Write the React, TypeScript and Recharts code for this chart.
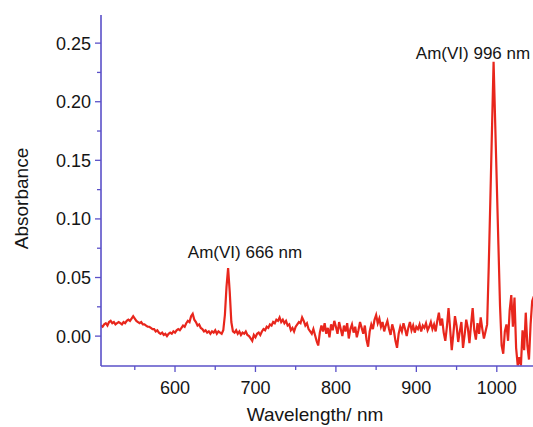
import { LineChart, Line, XAxis, YAxis, ReferenceDot } from 'recharts';

// absorbance readings, 2 nm apart, one array per stretch of the spectrum
const WL_STEP = 2;
const seg508 = [
  0.009, 0.008, 0.010, 0.011, 0.009, 0.012, 0.013, 0.011, 0.012, 0.010,
  0.011, 0.012, 0.011, 0.010, 0.012, 0.011, 0.013, 0.014, 0.013, 0.015,
  0.017, 0.015, 0.013, 0.012, 0.011, 0.012, 0.010,
];
const seg562 = [
  0.010, 0.009, 0.008, 0.008, 0.007, 0.006, 0.006, 0.004, 0.005, 0.003,
  0.002, 0.003, 0.001, 0.002, 0.000, 0.002, 0.003, 0.002, 0.004, 0.003,
];
const seg602 = [
  0.005, 0.006, 0.005, 0.007, 0.009, 0.008, 0.011, 0.013, 0.012, 0.017,
  0.019, 0.014, 0.012, 0.009, 0.010, 0.007, 0.006, 0.004, 0.005, 0.003,
];
const seg642 = [
  0.004, 0.002, 0.004, 0.003, 0.005, 0.002, 0.004, 0.003, 0.002, 0.005,
  0.018, 0.042, 0.058, 0.038, 0.012, 0.004, 0.003, 0.005, 0.002, 0.004,
  0.001, 0.003, 0.002, 0.004, 0.001,
];
const seg692 = [
  0.000, -0.002, -0.004, 0.001, -0.001, 0.002, 0.003, 0.001, 0.004, 0.006,
  0.005, 0.008, 0.007, 0.010, 0.009, 0.012, 0.011, 0.014, 0.013, 0.016,
  0.012, 0.014, 0.011, 0.013, 0.009, 0.010, 0.005, 0.007, 0.004, 0.008,
  0.010, 0.012, 0.011, 0.016, 0.013, 0.009, 0.011, 0.006, 0.004, 0.002,
];
const seg772 = [
  0.006, 0.001, -0.004, -0.008, 0.003, 0.009, 0.004, 0.011, 0.002, 0.007,
  -0.001, 0.010, 0.005, 0.013, 0.008, 0.002, 0.012, 0.006, 0.000, 0.009,
  0.004, 0.011, -0.002, 0.006, 0.010, 0.003, 0.008, -0.001, 0.005, 0.012,
  0.007, 0.002, 0.009, -0.003, -0.009, 0.004, 0.010, 0.006, 0.014, 0.018,
  0.011, 0.015, 0.008, 0.012, 0.004, 0.009, 0.013, 0.006, 0.001, 0.010,
  0.005, -0.004, -0.010, 0.002, 0.008, 0.004, 0.011, 0.006, 0.000, 0.007,
  0.012, 0.005, 0.009, 0.003, 0.008,
];
const seg902 = [
  0.006, 0.010, 0.004, 0.009, 0.007, 0.011, 0.005, 0.008, 0.012, 0.006,
  0.010, 0.004, 0.013, 0.020, 0.009, 0.015, 0.003, -0.004, 0.008, 0.024,
  0.006, -0.012, 0.002, 0.017, 0.009, -0.005, 0.004, 0.012, -0.010, 0.001,
  0.014, 0.007, -0.006, 0.010, 0.024, 0.005, -0.003, 0.011, 0.002, 0.016,
  0.006, -0.002, 0.004,
];
const seg988 = [0.010, 0.060, 0.117, 0.176, 0.234, 0.182, 0.130, 0.078, 0.026];
const seg1006 = [
  -0.008, -0.015, 0.004, 0.010, -0.004, 0.022, 0.035, 0.008, 0.033, -0.010,
  -0.025, -0.018, -0.025, 0.005, -0.012, 0.020, -0.008, -0.020, 0.010, 0.030,
  0.034,
];

const segments: [number, number[]][] = [
  [508, seg508], [562, seg562], [602, seg602], [642, seg642], [692, seg692],
  [772, seg772], [902, seg902], [988, seg988], [1006, seg1006],
];

const data = segments.flatMap(([start, vals]) =>
  vals.map((a, i) => ({ wl: start + i * WL_STEP, abs: a }))
);

const xTicks = [550, 600, 650, 700, 750, 800, 850, 900, 950, 1000];
const yTicks = [0, 0.025, 0.05, 0.075, 0.1, 0.125, 0.15, 0.175, 0.2, 0.225, 0.25];

const AXIS = '#5a50c8';
const FONT = '"Liberation Sans", Arial, sans-serif';
const INK = '#151515';

const isMajorX = (v: number) => v % 100 === 0;
const isMajorY = (v: number) => Math.abs(v * 20 - Math.round(v * 20)) < 1e-6;

const BottomTick = ({ x, y, payload }: any) => {
  const major = isMajorX(payload.value);
  return (
    <g>
      <line x1={x} x2={x} y1={y} y2={y + (major ? 6 : 4)} stroke={AXIS} strokeWidth={1.3} />
      {major && (
        <text x={x} y={y + 28} textAnchor="middle" fontSize={18} fontFamily={FONT} fill={INK}>
          {payload.value}
        </text>
      )}
    </g>
  );
};

const TopTick = ({ x, y, payload }: any) => {
  const major = isMajorX(payload.value);
  return <line x1={x} x2={x} y1={y} y2={y + (major ? 6 : 4)} stroke={AXIS} strokeWidth={1.3} />;
};

const LeftTick = ({ x, y, payload }: any) => {
  const major = isMajorY(payload.value);
  return (
    <g>
      <line x1={x - (major ? 6 : 4)} x2={x} y1={y} y2={y} stroke={AXIS} strokeWidth={1.3} />
      {major && (
        <text x={x - 10} y={y} dy="0.36em" textAnchor="end" fontSize={18} fontFamily={FONT} fill={INK}>
          {payload.value.toFixed(2)}
        </text>
      )}
    </g>
  );
};

const YTitle = ({ viewBox }: any) => {
  const cx = viewBox.x + 21;
  const cy = viewBox.y + viewBox.height / 2 + 8;
  return (
    <text
      x={cx}
      y={cy}
      dy="0.36em"
      textAnchor="middle"
      transform={`rotate(-90, ${cx}, ${cy})`}
      fontSize={19}
      fontFamily={FONT}
      fill={INK}
    >
      Absorbance
    </text>
  );
};

const XTitle = ({ viewBox }: any) => (
  <text
    x={viewBox.x + viewBox.width / 2 - 2}
    y={viewBox.y + 55}
    textAnchor="middle"
    fontSize={19}
    fontFamily={FONT}
    fill={INK}
  >
    Wavelength/ nm
  </text>
);

const noteLabel = (text: string) => ({
  value: text,
  position: 'center' as const,
  fontSize: 17,
  fontFamily: FONT,
  fill: INK,
});

export default function App() {
  return (
    <div style={{ position: 'absolute', left: 0, top: 0, background: '#fff' }}>
      <LineChart width={533} height={427} data={data} margin={{ top: 15, right: 0, left: 0, bottom: 0 }}>
        <XAxis
          dataKey="wl"
          type="number"
          domain={[508, 1045]}
          allowDataOverflow
          ticks={xTicks}
          interval={0}
          height={61}
          axisLine={{ stroke: AXIS, strokeWidth: 1.6 }}
          tickLine={false}
          tickSize={0}
          tickMargin={0}
          tick={<BottomTick />}
          label={{ content: <XTitle /> }}
        />
        <XAxis
          xAxisId="top"
          orientation="top"
          dataKey="wl"
          type="number"
          domain={[508, 1045]}
          allowDataOverflow
          ticks={xTicks}
          interval={0}
          height={0}
          axisLine={{ stroke: AXIS, strokeWidth: 1.6 }}
          tickLine={false}
          tickSize={0}
          tickMargin={0}
          tick={<TopTick />}
        />
        <YAxis
          type="number"
          domain={[-0.0255, 0.274]}
          allowDataOverflow
          ticks={yTicks}
          interval={0}
          width={101}
          axisLine={{ stroke: AXIS, strokeWidth: 1.6 }}
          tickLine={false}
          tickSize={0}
          tickMargin={0}
          tick={<LeftTick />}
          label={{ content: <YTitle /> }}
        />
        <Line
          type="linear"
          dataKey="abs"
          stroke="#e8261c"
          strokeWidth={2.2}
          dot={false}
          isAnimationActive={false}
        />
        <ReferenceDot x={687} y={0.0717} r={0} fill="none" stroke="none" label={noteLabel('Am(VI) 666 nm')} />
        <ReferenceDot x={970.4} y={0.2415} r={0} fill="none" stroke="none" label={noteLabel('Am(VI) 996 nm')} />
      </LineChart>
    </div>
  );
}
